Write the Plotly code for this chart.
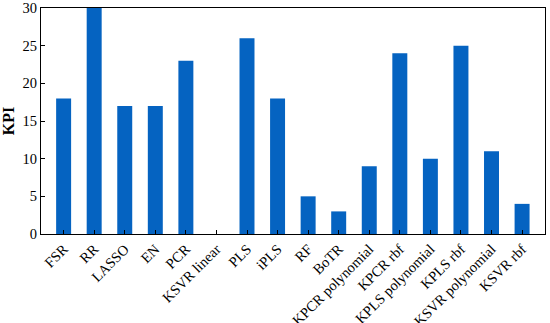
import plotly.graph_objects as go

categories = ["FSR", "RR", "LASSO", "EN", "PCR", "KSVR linear", "PLS", "iPLS", "RF", "BoTR",
              "KPCR polynomial", "KPCR rbf", "KPLS polynomial", "KPLS rbf", "KSVR polynomial", "KSVR rbf"]
kpi = [18, 30, 17, 17, 23, 0, 26, 18, 5, 3, 9, 24, 10, 25, 11, 4]
y_ticks = [0, 5, 10, 15, 20, 25, 30]

fig = go.Figure(go.Bar(x=categories, y=kpi, marker=dict(color="#0563C1", line=dict(width=0))))

font = dict(family="Liberation Serif, DejaVu Serif, serif", size=15, color="black")
fig.update_layout(
    width=550, height=323,
    margin=dict(l=41, r=5, t=8, b=89),
    plot_bgcolor="white", paper_bgcolor="white",
    bargap=0.51, showlegend=False, font=font,
)
fig.update_xaxes(
    range=[-0.74, len(categories) - 0.25],
    tickangle=-45, ticks="inside", ticklen=4, tickcolor="black",
    showline=True, linecolor="black", linewidth=1, mirror=True,
    showgrid=False, tickfont=dict(size=14.5), automargin=False,
    ticklabeloverflow="allow",
)
fig.update_yaxes(
    range=[0, 30], tickvals=y_ticks, ticks="inside", ticklen=4, tickcolor="black",
    showline=True, linecolor="black", linewidth=1, mirror=True,
    showgrid=False, zeroline=False, tickfont=dict(size=14.5), automargin=False,
    ticklabeloverflow="allow",
    title=dict(text="<b>KPI</b>", font=dict(size=16), standoff=3),
)
fig.write_html(
    "out.html",
    config={"displayModeBar": False},
    post_script="document.body.style.margin='0';document.body.style.overflow='hidden';",
)
